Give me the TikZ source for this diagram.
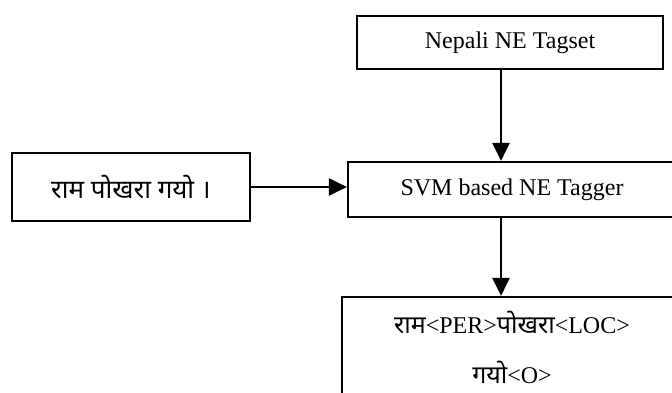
\documentclass[tikz,border=0pt]{standalone}
\usepackage{fontspec}
\setmainfont{Liberation Serif}
\newfontfamily\deva[Script=Devanagari]{Noto Sans}
\usetikzlibrary{arrows.meta}

\begin{document}
\begin{tikzpicture}[x=1pt, y=-1pt,
  box/.style={draw, line width=2.2pt, inner sep=0pt, align=center, font=\fontsize{24}{50}\selectfont},
  flow/.style={line width=2.8pt, -{Triangle[length=18pt, width=17pt]}}]
  \useasboundingbox (0,0) rectangle (672,393);
  \clip (0,0) rectangle (672,393);

  % Tagset, input sentence, tagger and tagged output
  \node[box, minimum width=306pt, minimum height=53pt] (tagset) at (510,42.5) {Nepali NE Tagset};
  \node[box, minimum width=238pt, minimum height=68pt] (input) at (131,187) {\deva\fontsize{26}{30}\selectfont राम पोखरा गयो ।};
  \node[box, minimum width=328pt, minimum height=55pt] (tagger) at (512,189.5) {SVM based NE Tagger};
  \node[box, minimum width=340pt, minimum height=100pt] (output) at (512,347)
    {{\deva\fontsize{25}{30}\selectfont राम}<PER>{\deva\fontsize{25}{30}\selectfont पोखरा}<LOC>\\ {\deva\fontsize{25}{30}\selectfont गयो}<O>};

  % Arrows
  \draw[flow] ([xshift=-9pt]tagset.south) -- ([xshift=-11pt]tagger.north);
  \draw[flow] (input.east) -- (input.east -| tagger.west);
  \draw[flow] ([xshift=-11pt]tagger.south) -- ([xshift=-11pt]output.north);
\end{tikzpicture}
\end{document}
